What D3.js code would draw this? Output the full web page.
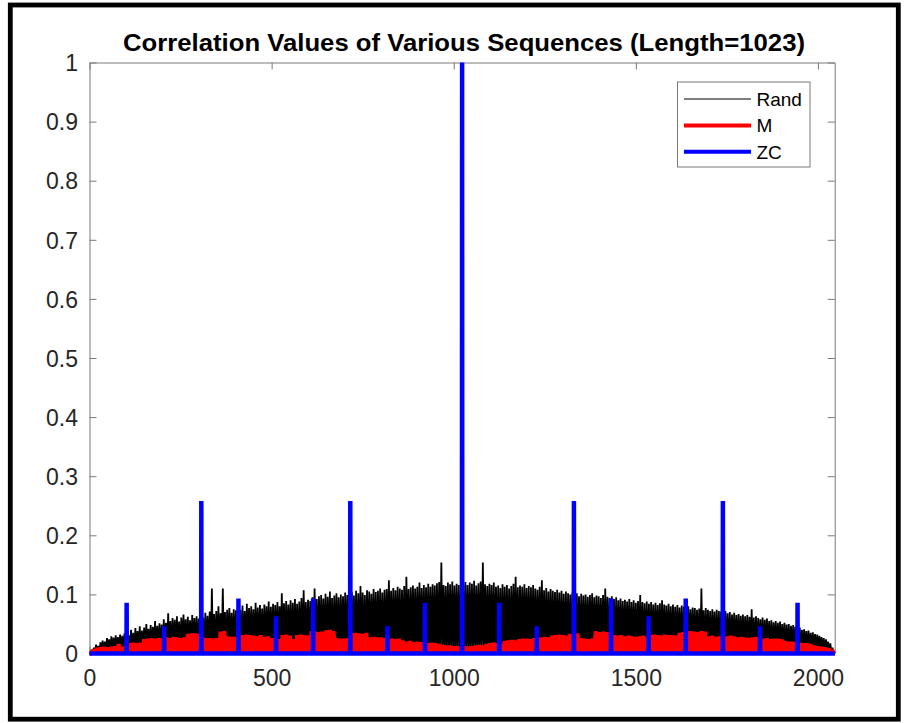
<!DOCTYPE html>
<html>
<head>
<meta charset="utf-8">
<script src="https://cdn.jsdelivr.net/npm/d3@7"></script>
<style>
  body { margin: 0; background: #fff; }
  svg text { font-family: "Liberation Sans", Arial, sans-serif; }
</style>
</head>
<body>
<svg id="chart" width="904" height="723"></svg>
<script>
// lag axis runs 0..2046, correlation 0..1
var xMax = 2046;
var xTicks = [0, 500, 1000, 1500, 2000];
var yTicks = [0, 0.1, 0.2, 0.3, 0.4, 0.5, 0.6, 0.7, 0.8, 0.9, 1];
var yTickLabels = ["0", "0.1", "0.2", "0.3", "0.4", "0.5", "0.6", "0.7", "0.8", "0.9", "1"];
var seriesNames = ["Rand", "M", "ZC"];

// Rand: local peaks read every 6 lags (one row = 102 lags)
var randStep = 6;
var randPeaks = [
  0, .006, .010, .015, .013, .019, .022, .020, .026, .024, .029, .027, .031, .028, .032, .030, .034,
  .037, .031, .040, .035, .043, .038, .046, .039, .044, .050, .042, .048, .045, .055, .047, .051, .049,
  .058, .052, .068, .055, .060, .057, .063, .054, .061, .066, .058, .062, .056, .065, .060, .063, .059,
  .066, .061, .069, .064, .071, .110, .067, .072, .080, .068, .110, .070, .074, .077, .069, .075, .073,
  .079, .074, .081, .072, .084, .077, .080, .075, .086, .078, .082, .076, .083, .080, .088, .079, .084,
  .082, .087, .080, .102, .085, .089, .083, .090, .086, .092, .084, .088, .094, .107, .087, .091, .089,
  .095, .110, .092, .097, .099, .093, .101, .096, .105, .094, .098, .102, .095, .100, .097, .103, .099,
  .100, .104, .098, .106, .102, .114, .103, .099, .107, .105, .101, .109, .104, .106, .110, .103, .108,
  .109, .124, .106, .111, .107, .113, .110, .108, .114, .130, .109, .112, .115, .110, .113, .120, .111,
  .116, .112, .118, .113, .117, .115, .119, .121, .154, .116, .114, .120, .117, .122, .115, .118, .116,
  .119, .117, .121, .116, .120, .118, .123, .115, .119, .122, .154, .117, .114, .118, .116, .120, .113,
  .115, .111, .117, .113, .116, .110, .114, .118, .130, .112, .115, .113, .117, .111, .114, .112, .116,
  .110, .108, .113, .124, .107, .111, .105, .109, .106, .104, .108, .103, .106, .101, .105, .102, .100,
  .103, .099, .102, .097, .101, .098, .100, .096, .099, .102, .095, .098, .097, .094, .099, .110, .096,
  .094, .097, .092, .095, .090, .093, .089, .091, .088, .092, .087, .090, .086, .089, .099, .087, .085,
  .088, .084, .087, .083, .086, .082, .085, .090, .083, .081, .084, .080, .083, .079, .082, .078, .081,
  .079, .076, .080, .075, .078, .077, .074, .076, .110, .073, .077, .074, .072, .075, .071, .074, .072,
  .071, .069, .072, .068, .070, .066, .069, .065, .067, .064, .066, .063, .065, .062, .075, .061, .063,
  .060, .058, .061, .057, .059, .055, .056, .053, .055, .052, .054, .050, .052, .049, .050, .047, .048,
  .045, .043, .044, .040, .041, .038, .039, .035, .036, .033, .032, .030, .028, .026, .024, .020, .017,
  .010, 0
];

// M sequence: peaks every 10 lags (one row = 100 lags)
var mStep = 10;
var mPeaks = [
  0, .006, .009, .010, .011, .010, .011, .012, .016, .011,
  .014, .017, .018, .017, .018, .024, .025, .026, .025, .026,
  .026, .027, .026, .028, .027, .026, .027, .033, .034, .034,
  .033, .027, .026, .026, .025, .026, .037, .038, .029, .028,
  .028, .029, .031, .032, .031, .030, .029, .031, .028, .029,
  .026, .025, .024, .031, .032, .030, .024, .031, .032, .031,
  .030, .038, .037, .036, .037, .039, .040, .038, .026, .025,
  .025, .026, .034, .035, .034, .033, .035, .027, .028, .027,
  .027, .026, .025, .025, .024, .025, .022, .020, .021, .019,
  .020, .019, .018, .017, .018, .017, .016, .014, .013, .013,
  .012, .012, .011, .012, .011, .012, .013, .014, .013, .016,
  .017, .018, .017, .016, .021, .022, .023, .022, .024, .025,
  .025, .024, .026, .025, .027, .028, .027, .030, .031, .032,
  .031, .030, .033, .032, .034, .026, .025, .024, .025, .038,
  .036, .037, .036, .032, .031, .030, .031, .029, .030, .029,
  .028, .029, .030, .027, .031, .032, .031, .030, .032, .031,
  .031, .030, .035, .036, .037, .038, .037, .036, .038, .037,
  .029, .030, .028, .029, .030, .029, .030, .029, .027, .028,
  .027, .026, .027, .028, .026, .025, .026, .024, .025, .025,
  .024, .021, .020, .020, .019, .018, .017, .017, .016, .013,
  .012, .011, .010, .008, .005, 0
];

// ZC: zero except at these lags
var zcLags = [102, 205, 307, 409, 512, 614, 716, 818, 921, 1023, 1125, 1228, 1330, 1432, 1535, 1637, 1739, 1841, 1944];
var zcPeaks = [.086, .046, .258, .093, .063, .093, .258, .046, .086, 1, .086, .046, .258, .093, .063, .093, .258, .046, .086];

var box = {left: 89.5, right: 834.7, top: 62.5, bottom: 653.5};
var axisGray = "#7a7a7a";
var labelColor = "#262626";

var svg = d3.select("#chart");

var x = d3.scaleLinear().domain([0, xMax]).range([box.left, box.right]);
var y = d3.scaleLinear().domain([0, 1]).range([box.bottom, box.top]);

// outer black frame
svg.append("rect")
  .attr("x", 10.3).attr("y", 5)
  .attr("width", 888).attr("height", 714.2)
  .attr("fill", "none").attr("stroke", "#000").attr("stroke-width", 4.8);

// axes, ticks point inward
function styleAxis(g) {
  g.selectAll(".domain").attr("stroke", axisGray).attr("stroke-width", 1);
  g.selectAll(".tick line").attr("stroke", axisGray).attr("stroke-width", 1);
  g.selectAll(".tick text").attr("fill", labelColor).attr("font-size", 23)
    .attr("font-family", "'Liberation Sans', Arial, sans-serif");
  g.attr("font-family", null).attr("font-size", null);
}

svg.append("g").attr("transform", "translate(" + box.left + ",0)")
  .call(d3.axisLeft(y).tickValues(yTicks).tickFormat(function (d, i) { return yTickLabels[i]; })
    .tickSize(-7).tickSizeOuter(0).tickPadding(11.5))
  .call(styleAxis)
  .selectAll(".tick text").attr("dy", "0.36em");

svg.append("g").attr("transform", "translate(" + box.right + ",0)")
  .call(d3.axisRight(y).tickValues(yTicks).tickFormat("").tickSize(-7).tickSizeOuter(0))
  .call(styleAxis);

svg.append("g").attr("transform", "translate(0," + box.bottom + ")")
  .call(d3.axisBottom(x).tickValues(xTicks).tickFormat(d3.format("d"))
    .tickSize(-7).tickSizeOuter(0).tickPadding(16))
  .call(styleAxis);

svg.append("g").attr("transform", "translate(0," + box.top + ")")
  .call(d3.axisTop(x).tickValues(xTicks).tickFormat("").tickSize(-7).tickSizeOuter(0))
  .call(styleAxis);

// zigzag: each read peak, then back down to zero halfway to the next one
function peakPoints(peaks, step) {
  var pts = [];
  peaks.forEach(function (v, i) {
    var lag = Math.min(i * step, xMax);
    pts.push([lag, v]);
    if (i < peaks.length - 1) pts.push([lag + step / 2, 0]);
  });
  return pts;
}

var zcPts = [[0, 0]];
zcLags.forEach(function (lag, i) {
  zcPts.push([lag - 0.5, 0], [lag, zcPeaks[i]], [lag + 0.5, 0]);
});
zcPts.push([xMax, 0]);

var line = d3.line().x(function (d) { return x(d[0]); }).y(function (d) { return y(d[1]); });

svg.append("path").attr("d", line(peakPoints(randPeaks, randStep)))
  .attr("fill", "none").attr("stroke", "#000").attr("stroke-width", 1.8)
  .attr("stroke-linejoin", "bevel");
svg.append("path").attr("d", line(peakPoints(mPeaks, mStep)))
  .attr("fill", "none").attr("stroke", "#ff0000").attr("stroke-width", 4)
  .attr("stroke-linejoin", "bevel");
svg.append("path").attr("d", line(zcPts))
  .attr("fill", "none").attr("stroke", "#0000ff").attr("stroke-width", 4.5)
  .attr("stroke-linejoin", "bevel");

// title
svg.append("text")
  .attr("x", 464).attr("y", 51)
  .attr("text-anchor", "middle").attr("font-size", 24).attr("font-weight", "bold").attr("fill", "#000")
  .attr("textLength", 682).attr("lengthAdjust", "spacingAndGlyphs")
  .text("Correlation Values of Various Sequences (Length=1023)");

// legend
var legendColors = ["#000", "#ff0000", "#0000ff"];
var legendWidths = [1, 4, 4];
var legend = svg.append("g");
legend.append("rect")
  .attr("x", 677.5).attr("y", 82).attr("width", 132.5).attr("height", 85)
  .attr("fill", "#fff").attr("stroke", axisGray).attr("stroke-width", 1);
seriesNames.forEach(function (name, i) {
  var ly = 99 + i * 26.4;
  legend.append("line")
    .attr("x1", 684).attr("x2", 751).attr("y1", ly).attr("y2", ly)
    .attr("stroke", legendColors[i]).attr("stroke-width", legendWidths[i]);
  legend.append("text")
    .attr("x", 756.5).attr("y", ly + 7)
    .attr("font-size", 19).attr("fill", "#000")
    .text(name);
});
</script>
</body>
</html>
